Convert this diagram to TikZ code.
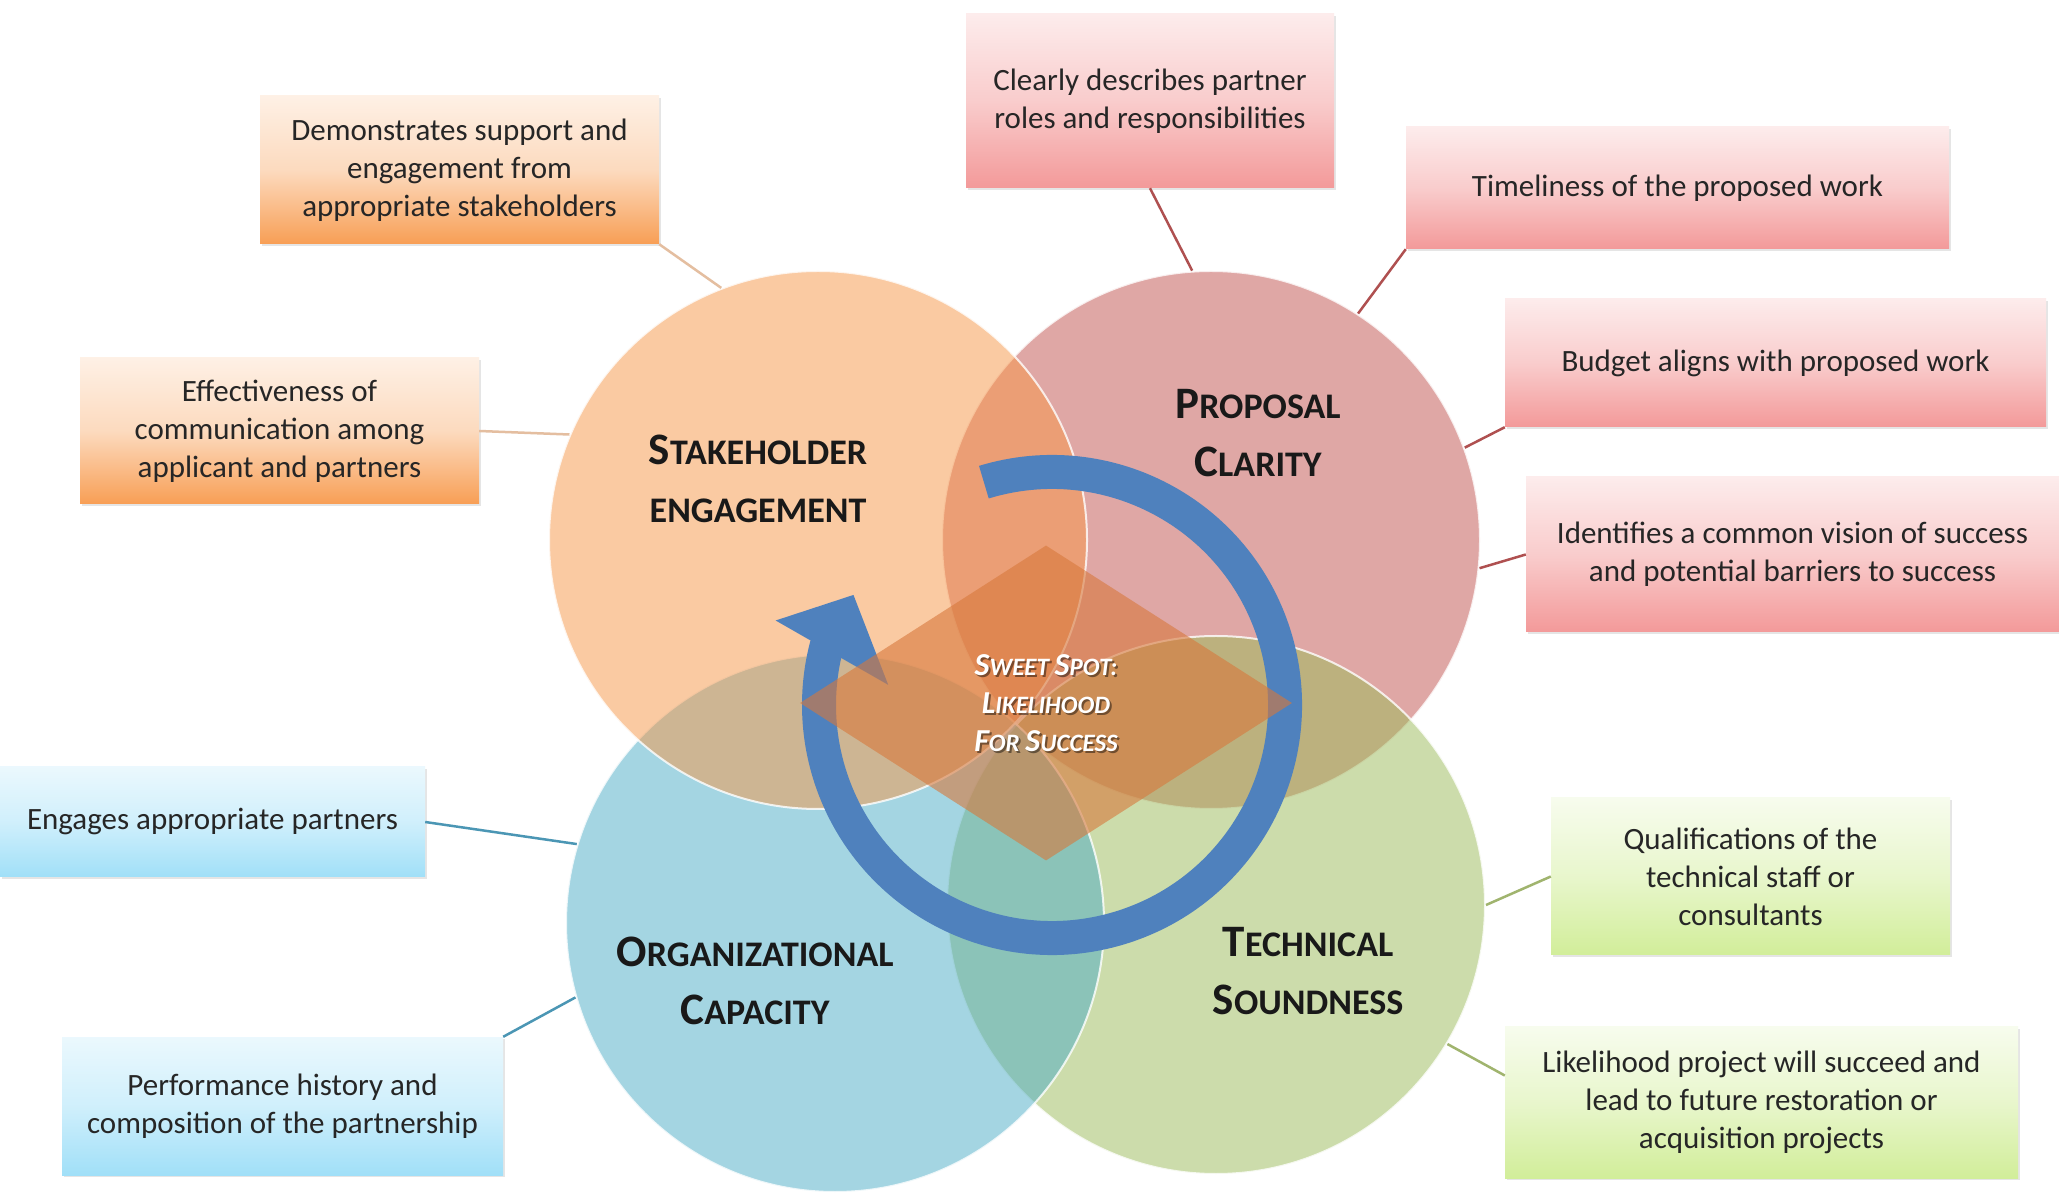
\documentclass[tikz,border=0pt]{standalone}
\usepackage{fontspec}
\setmainfont{Carlito}
\usepackage{tikz}
\usetikzlibrary{shapes,shadows}

\definecolor{stakefill}{RGB}{247,150,70}
\definecolor{propfill}{RGB}{192,80,77}
\definecolor{orgfill}{RGB}{75,172,198}
\definecolor{techfill}{RGB}{155,187,89}
\definecolor{stakeshade}{RGB}{247,150,70}
\definecolor{propshade}{RGB}{240,128,128}
\definecolor{orgshade}{RGB}{120,210,245}
\definecolor{techshade}{RGB}{190,230,110}
\definecolor{stakeline}{RGB}{228,190,160}
\definecolor{propline}{RGB}{175,80,80}
\definecolor{orgline}{RGB}{75,150,180}
\definecolor{techline}{RGB}{160,180,110}
\definecolor{cycleblue}{RGB}{79,129,189}
\definecolor{spotfill}{RGB}{215,120,60}

% fake small caps: big first letter, smaller rest
\newcommand{\titlesc}[2]{{\fontsize{45pt}{58pt}\selectfont #1}{\fontsize{36pt}{58pt}\selectfont #2}}
\newcommand{\sweetsc}[2]{{\fontsize{32pt}{38pt}\selectfont #1}{\fontsize{25pt}{38pt}\selectfont #2}}
\newcommand{\sweetspot}{\sweetsc{S}{WEET} \sweetsc{S}{POT:}\\ \sweetsc{L}{IKELIHOOD}\\ \sweetsc{F}{OR} \sweetsc{S}{UCCESS}}

\begin{document}
\begin{tikzpicture}[x=1pt, y=1pt]
    % Define styles
    \tikzstyle{area} = [circle, minimum size=538pt, inner sep=0pt, fill opacity=0.5, draw=white, draw opacity=0.8, line width=2pt]
    \tikzstyle{criterion} = [rectangle, align=center, inner sep=0pt, text=black!85, font=\fontsize{31pt}{38pt}\selectfont, drop shadow={shadow xshift=2pt, shadow yshift=-2pt, opacity=0.2}]
    \tikzstyle{stakebox} = [criterion, top color=stakeshade!14, bottom color=stakeshade!92, middle color=stakeshade!35]
    \tikzstyle{propbox} = [criterion, top color=propshade!15, bottom color=propshade!80, middle color=propshade!40]
    \tikzstyle{orgbox} = [criterion, top color=orgshade!15, bottom color=orgshade!70, middle color=orgshade!35]
    \tikzstyle{techbox} = [criterion, top color=techshade!12, bottom color=techshade!70, middle color=techshade!35]
    \tikzstyle{title} = [align=center, text=black!90, font=\bfseries\fontsize{36pt}{58pt}\selectfont]
    \tikzstyle{sweettext} = [align=center, text=white, font=\bfseries\itshape\fontsize{25pt}{38pt}\selectfont]
    \tikzstyle{spot} = [diamond, minimum width=492pt, minimum height=315pt, inner sep=0pt, fill=spotfill, fill opacity=0.6]
    \tikzstyle{cyclebody} = [draw=cycleblue, line width=34pt]
    \tikzstyle{link} = [line width=2.5pt]

    \path[use as bounding box, fill=white] (0,0) rectangle (2059,1192);

    % Four overlapping areas
    \node [area, fill=propfill] (proposal) at (1211,652) {};
    \node [area, fill=techfill] (soundness) at (1216,287) {};
    \node [area, fill=orgfill] (capacity) at (835,269) {};
    \node [area, fill=stakefill] (stakeholder) at (818,652) {};

    % Criteria boxes
    \node [stakebox, minimum width=399pt, minimum height=148pt] (support) at (459.5,1022) {Demonstrates support and\\ engagement from\\ appropriate stakeholders};
    \node [stakebox, minimum width=399pt, minimum height=146pt] (communication) at (279.5,761) {Effectiveness of\\ communication among\\ applicant and partners};
    \node [propbox, minimum width=368pt, minimum height=174pt] (roles) at (1150,1091) {Clearly describes partner\\ roles and responsibilities};
    \node [propbox, minimum width=543pt, minimum height=122pt] (timeliness) at (1677.5,1004) {Timeliness of the proposed work};
    \node [propbox, minimum width=541pt, minimum height=128pt] (budget) at (1775.5,829) {Budget aligns with proposed work};
    \node [propbox, minimum width=533pt, minimum height=155pt] (vision) at (1792.5,637.5) {Identifies a common vision of success\\ and potential barriers to success};
    \node [orgbox, minimum width=425pt, minimum height=110pt] (partners) at (212.5,370) {Engages appropriate partners};
    \node [orgbox, minimum width=441pt, minimum height=138pt] (history) at (282.5,86) {Performance history and\\ composition of the partnership};
    \node [techbox, minimum width=399pt, minimum height=157pt] (staff) at (1750.5,315.5) {Qualifications of the\\ technical staff or\\ consultants};
    \node [techbox, minimum width=513pt, minimum height=151pt] (future) at (1761.5,89.5) {Likelihood project will succeed and\\ lead to future restoration or\\ acquisition projects};

    % Links
    \draw [link, stakeline] (support.south east) -- (stakeholder.111);
    \draw [link, stakeline] (communication.east) -- (stakeholder.157);
    \draw [link, propline] (roles.south) -- (proposal.94);
    \draw [link, propline] (timeliness.south west) -- (proposal.57);
    \draw [link, propline] (budget.south west) -- (proposal.20);
    \draw [link, propline] (vision.west) -- (proposal.-6);
    \draw [link, orgline] (partners.east) -- (capacity.163);
    \draw [link, orgline] (history.north east) -- (capacity.196);
    \draw [link, techline] (staff.west) -- (soundness.0);
    \draw [link, techline] (future.174) -- (soundness.-31);

    % Cycle arrow
    \coordinate (cyc) at (1052,487);
    \draw [cyclebody] ([shift={(107:233)}]cyc) arc[start angle=107, end angle=-195, radius=233];
    \fill [cycleblue] ([shift={(163:289)}]cyc) -- ([shift={(151:227)}]cyc) -- ([shift={(173:165)}]cyc) -- cycle;

    % Sweet spot
    \node [spot] (spot) at (1046,489) {};
    \node [sweettext, text=black, text opacity=0.45] (sweet_shadow) at ([shift={(2,-2)}]spot.center) {\sweetspot};
    \node [sweettext] (sweet) at (spot.center) {\sweetspot};

    % Titles
    \node [title] (stakeholder_title) at (758,713) {\titlesc{S}{TAKEHOLDER}\\ \titlesc{}{ENGAGEMENT}};
    \node [title] (proposal_title) at (1258,759) {\titlesc{P}{ROPOSAL}\\ \titlesc{C}{LARITY}};
    \node [title] (capacity_title) at (755,211) {\titlesc{O}{RGANIZATIONAL}\\ \titlesc{C}{APACITY}};
    \node [title] (soundness_title) at (1308,221) {\titlesc{T}{ECHNICAL}\\ \titlesc{S}{OUNDNESS}};
\end{tikzpicture}
\end{document}
